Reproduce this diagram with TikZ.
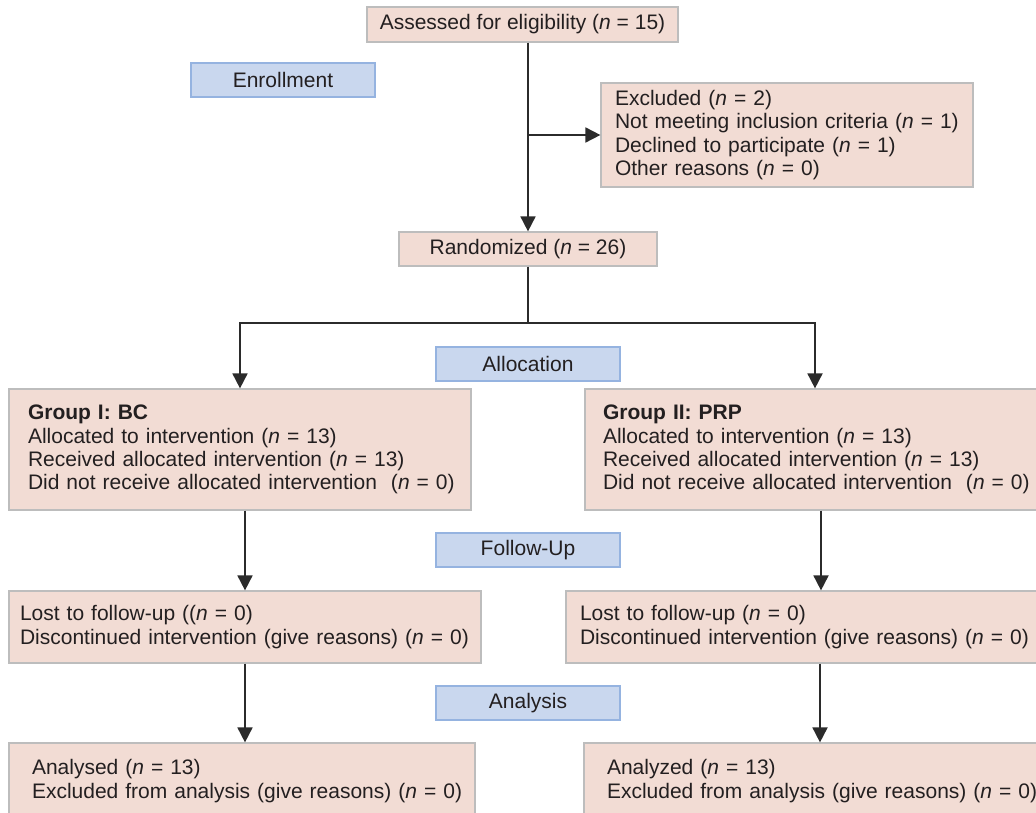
\documentclass[tikz,border=0pt]{standalone}
\usepackage{fontspec}
\setmainfont{Liberation Sans}
\usetikzlibrary{arrows.meta}
\definecolor{pinkfill}{HTML}{F2DCD4}
\definecolor{pinkline}{HTML}{BDBDBD}
\definecolor{bluefill}{HTML}{C9D7EE}
\definecolor{blueline}{HTML}{95B3E0}
\definecolor{ink}{HTML}{231F20}
\definecolor{arrowc}{HTML}{2B2B2B}
\newcommand\oneline[1]{\mbox{#1}}
\tikzset{
  every node/.style={font=\fontsize{21}{23.3}\selectfont, text=ink},
  pbox/.style={draw=pinkline, fill=pinkfill, line width=1.2pt, inner sep=0pt},
  bbox/.style={draw=blueline, fill=bluefill, line width=1.2pt, inner sep=0pt,
    minimum width=184pt, minimum height=34pt},
  lbox/.style={pbox, align=left, inner xsep=0pt},
  arr/.style={draw=arrowc, line width=1.8pt, -{Triangle[width=15pt,length=15pt]}},
  ln/.style={draw=arrowc, line width=1.8pt},
}
\begin{document}
\begin{tikzpicture}[x=1pt,y=-1pt]
\useasboundingbox (0,0) rectangle (1036,813);
% boxes
\node[pbox, minimum width=311pt, minimum height=35pt] (assess) at (522.5,24.5) {Assessed for eligibility (\textit{n} = 15)};
\node[bbox] (enroll) at (283,80) {Enrollment};
\node[lbox, minimum width=372pt, minimum height=104pt, text width=344pt] (excl) at (787,135)
  {\oneline{Excluded (\textit{n} = 2)}\\\oneline{Not meeting inclusion criteria (\textit{n} = 1)}\\\oneline{Declined to participate (\textit{n} = 1)}\\\oneline{Other reasons (\textit{n} = 0)}};
\node[pbox, minimum width=258pt, minimum height=34pt] (rand) at (528,249) {Randomized (\textit{n} = 26)};
\node[bbox] (alloc) at (528,364) {Allocation};
\node[lbox, minimum width=462pt, minimum height=121pt, text width=424pt] (g1) at (240,449.5)
  {\oneline{\textbf{Group I: BC}}\\\oneline{Allocated to intervention (\textit{n} = 13)}\\\oneline{Received allocated intervention (\textit{n} = 13)}\\\oneline{Did not receive allocated intervention\ \ (\textit{n} = 0)}};
\node[lbox, minimum width=460pt, minimum height=121pt, text width=424pt] (g2) at (815,449.5)
  {\oneline{\textbf{Group II: PRP}}\\\oneline{Allocated to intervention (\textit{n} = 13)}\\\oneline{Received allocated intervention (\textit{n} = 13)}\\\oneline{Did not receive allocated intervention\ \ (\textit{n} = 0)}};
\node[bbox] (follow) at (528,550) {Follow-Up};
\node[lbox, minimum width=472pt, minimum height=72pt, text width=450pt] (l1) at (245,627)
  {\oneline{Lost to follow-up ((\textit{n} = 0)}\\\oneline{Discontinued intervention (give reasons) (\textit{n} = 0)}};
\node[lbox, minimum width=510pt, minimum height=72pt, text width=482pt] (l2) at (821,627)
  {\oneline{Lost to follow-up (\textit{n} = 0)}\\\oneline{Discontinued intervention (give reasons) (\textit{n} = 0)}};
\node[bbox] (analysis) at (528,703) {Analysis};
\node[lbox, minimum width=466pt, minimum height=76pt, text width=420pt] (a1) at (242,781)
  {\oneline{Analysed (\textit{n} = 13)}\\\oneline{Excluded from analysis (give reasons) (\textit{n} = 0)}};
\node[lbox, minimum width=472pt, minimum height=76pt, text width=426pt] (a2) at (820,781)
  {\oneline{Analyzed (\textit{n} = 13)}\\\oneline{Excluded from analysis (give reasons) (\textit{n} = 0)}};
% connectors
\draw[arr] (assess.south -| rand.north) -- (rand.north);
\draw[arr] (excl.west -| rand.north) -- (excl.west);
\coordinate (split) at (528,323);
\draw[ln] (rand.south) -- (split);
\draw[arr] (split) -| (g1.north);
\draw[arr] (split) -| (g2.north);
\draw[arr] (g1.south -| l1.north) -- (l1.north);
\draw[arr] (g2.south -| l2.north) -- (l2.north);
\draw[arr] (l1.south) -- (l1.south |- a1.north);
\draw[arr] (l2.south -| a2.north) -- (a2.north);
\end{tikzpicture}
\end{document}
